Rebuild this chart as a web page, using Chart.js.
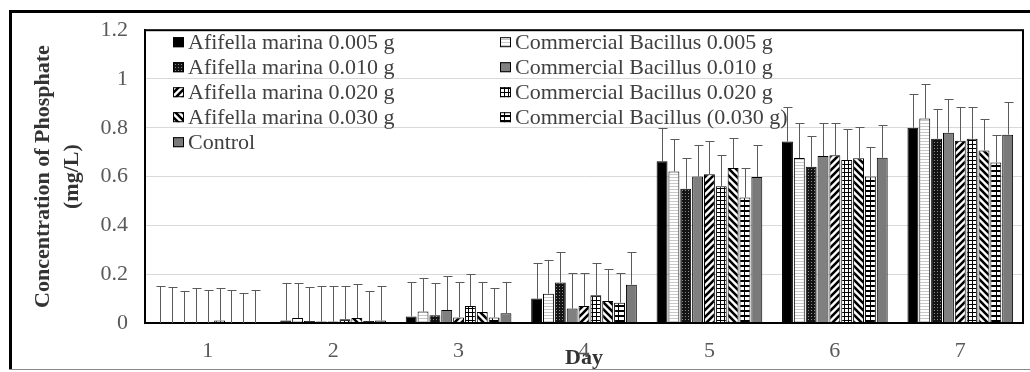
<!DOCTYPE html>
<html>
<head>
<meta charset="utf-8">
<style>
  html, body { margin: 0; padding: 0; background: #fff; }
  #wrap { width: 1030px; height: 372px; position: relative; }
  canvas { display: block; }
</style>
<script src="https://cdn.jsdelivr.net/npm/chart.js@4/dist/chart.umd.min.js"></script>
</head>
<body>
<div id="wrap"><canvas id="chart" width="1030" height="372"></canvas></div>
<script>
// Sampling days (x categories)
const days = ['1', '2', '3', '4', '5', '6', '7'];

// Phosphate concentration (mg/L) per treatment, days 1-7
const afifella005   = [0.000, 0.010, 0.027, 0.100, 0.663, 0.744, 0.800];
const bacillus005   = [0.000, 0.020, 0.047, 0.120, 0.621, 0.676, 0.838];
const afifella010   = [0.000, 0.008, 0.032, 0.166, 0.550, 0.640, 0.755];
const bacillus010   = [0.000, 0.006, 0.053, 0.059, 0.600, 0.684, 0.780];
const afifella020   = [0.000, 0.006, 0.023, 0.070, 0.610, 0.687, 0.747];
const bacillus020   = [0.010, 0.015, 0.070, 0.114, 0.560, 0.668, 0.755];
const afifella030   = [0.000, 0.020, 0.045, 0.090, 0.635, 0.675, 0.707];
const bacillus030   = [0.000, 0.008, 0.023, 0.083, 0.514, 0.600, 0.658];
const control       = [0.000, 0.010, 0.040, 0.157, 0.598, 0.677, 0.772];

// Upper error (standard deviation, mg/L) per treatment, days 1-7
const afifella005Err = [0.153, 0.153, 0.143, 0.144, 0.137, 0.141, 0.140];
const bacillus005Err = [0.146, 0.143, 0.139, 0.140, 0.134, 0.142, 0.140];
const afifella010Err = [0.130, 0.138, 0.131, 0.124, 0.125, 0.127, 0.122];
const bacillus010Err = [0.143, 0.144, 0.141, 0.145, 0.130, 0.135, 0.136];
const afifella020Err = [0.137, 0.144, 0.147, 0.134, 0.135, 0.132, 0.137];
const bacillus020Err = [0.133, 0.135, 0.130, 0.130, 0.130, 0.127, 0.129];
const afifella030Err = [0.137, 0.140, 0.125, 0.130, 0.125, 0.128, 0.130];
const bacillus030Err = [0.123, 0.122, 0.122, 0.121, 0.121, 0.120, 0.114];
const controlErr     = [0.137, 0.143, 0.130, 0.133, 0.132, 0.133, 0.132];

// Legend / dataset names
const seriesNames = [
  'Afifella marina 0.005 g', 'Commercial Bacillus 0.005 g',
  'Afifella marina 0.010 g', 'Commercial Bacillus 0.010 g',
  'Afifella marina 0.020 g', 'Commercial Bacillus 0.020 g',
  'Afifella marina 0.030 g', 'Commercial Bacillus (0.030 g)',
  'Control'
];

// Value axis ticks
const yTickValues = [0, 0.2, 0.4, 0.6, 0.8, 1, 1.2];
const yTickLabels = ['0', '0.2', '0.4', '0.6', '0.8', '1', '1.2'];

const SERIF = "'Liberation Serif', 'Times New Roman', serif";

// ---- fill patterns ----
function makePattern(w, h, paint) {
  const c = document.createElement('canvas');
  c.width = w; c.height = h;
  const g = c.getContext('2d');
  paint(g, w, h);
  return g.createPattern(c, 'repeat');
}
function diagonal(up) {
  return makePattern(7, 7, (g, w, h) => {
    g.fillStyle = '#fff'; g.fillRect(0, 0, w, h);
    g.strokeStyle = '#000'; g.lineWidth = 2.6;
    g.beginPath();
    for (let k = -1; k <= 1; k++) {
      if (up) { g.moveTo(k * w - 1, h + 1); g.lineTo(k * w + w + 1, -1); }
      else    { g.moveTo(k * w - 1, -1);    g.lineTo(k * w + w + 1, h + 1); }
    }
    g.stroke();
  });
}
const fills = [
  '#000000',
  makePattern(4, 3, (g) => { g.fillStyle = '#fff'; g.fillRect(0, 0, 4, 3); g.fillStyle = '#c8c8c8'; g.fillRect(0, 0, 4, 1); }),
  makePattern(3, 3, (g) => { g.fillStyle = '#141414'; g.fillRect(0, 0, 3, 3); g.fillStyle = '#8c8c8c'; g.fillRect(1, 1, 1, 1); }),
  '#808080',
  diagonal(true),
  makePattern(4, 4, (g) => { g.fillStyle = '#fff'; g.fillRect(0, 0, 4, 4); g.fillStyle = '#000'; g.fillRect(0, 0, 4, 1); g.fillRect(0, 0, 1, 4); }),
  diagonal(false),
  makePattern(6, 5, (g) => { g.fillStyle = '#fff'; g.fillRect(0, 0, 6, 5); g.fillStyle = '#000'; g.fillRect(0, 0, 6, 2); g.fillRect(0, 2, 1, 3); }),
  '#7a7a7a'
];

const values = [afifella005, bacillus005, afifella010, bacillus010, afifella020, bacillus020, afifella030, bacillus030, control];
const errors = [afifella005Err, bacillus005Err, afifella010Err, bacillus010Err, afifella020Err, bacillus020Err, afifella030Err, bacillus030Err, controlErr];

const datasets = seriesNames.map((name, i) => ({
  label: name,
  data: values[i],
  errUp: errors[i],
  backgroundColor: fills[i],
  borderColor: '#000',
  borderWidth: 1,
  barPercentage: 0.92,
  categoryPercentage: 0.85
}));

// Outer frame and white page
const framePlugin = {
  id: 'frame',
  beforeDraw(chart) {
    const { ctx, width, height } = chart;
    ctx.save();
    ctx.fillStyle = '#fff';
    ctx.fillRect(0, 0, width, height);
    ctx.fillStyle = '#000';
    ctx.fillRect(9, 10, width - 9, 3);
    ctx.fillRect(9, 10, 3, height - 12);
    ctx.fillStyle = '#8a8a8a';
    ctx.fillRect(9, height - 3, width - 9, 1);
    ctx.restore();
  },
  afterDatasetsDraw(chart) {
    const { ctx, chartArea: a } = chart;
    ctx.save();
    ctx.strokeStyle = '#000';
    ctx.lineWidth = 2;
    ctx.strokeRect(a.left, a.top, a.right - a.left, a.bottom - a.top);
    ctx.restore();
  }
};

// One-sided (upper) error bars
const errorBarPlugin = {
  id: 'errorBars',
  afterDatasetsDraw(chart) {
    const { ctx } = chart;
    const yScale = chart.scales.y;
    ctx.save();
    ctx.strokeStyle = '#5a5a5a';
    ctx.lineWidth = 1;
    chart.data.datasets.forEach((ds, i) => {
      const meta = chart.getDatasetMeta(i);
      meta.data.forEach((bar, j) => {
        const topPx = Math.round(yScale.getPixelForValue(ds.data[j] + ds.errUp[j])) + 0.5;
        const x = Math.round(bar.x) + 0.5;
        ctx.beginPath();
        ctx.moveTo(x, bar.y);
        ctx.lineTo(x, topPx);
        ctx.moveTo(x - 4, topPx);
        ctx.lineTo(x + 5, topPx);
        ctx.stroke();
      });
    });
    ctx.restore();
  }
};

// Two-column legend laid over the plot
const legendPlugin = {
  id: 'gridLegend',
  afterDraw(chart) {
    const { ctx, chartArea: a } = chart;
    ctx.save();
    ctx.font = '22px ' + SERIF;
    ctx.textBaseline = 'middle';
    ctx.textAlign = 'left';
    chart.data.datasets.forEach((ds, i) => {
      const col = i % 2, row = Math.floor(i / 2);
      const x = a.left + (col === 0 ? 28 : 355);
      const y = a.top + 12 + row * 25;
      ctx.fillStyle = ds.backgroundColor;
      ctx.fillRect(x, y - 5, 11, 10);
      ctx.strokeStyle = '#000';
      ctx.lineWidth = 1;
      ctx.strokeRect(x + 0.5, y - 4.5, 10, 9);
      ctx.fillStyle = '#404040';
      ctx.fillText(ds.label, x + 15, y + 1);
    });
    ctx.restore();
  }
};

new Chart(document.getElementById('chart'), {
  type: 'bar',
  data: { labels: days, datasets },
  options: {
    responsive: false,
    animation: false,
    devicePixelRatio: 1,
    layout: { padding: { left: 12, right: 7, top: 25, bottom: 0 } },
    plugins: {
      legend: { display: false },
      tooltip: { enabled: false }
    },
    scales: {
      x: {
        grid: { display: false, drawTicks: false },
        border: { display: true, color: '#222', width: 2 },
        ticks: { padding: 15, color: '#595959', font: { family: SERIF, size: 22 } },
        title: {
          display: true, text: 'Day', color: '#333',
          font: { family: SERIF, size: 22, weight: 'bold' },
          padding: { top: 0, bottom: 0 }
        },
        afterFit(scale) { scale.height = 49; }
      },
      y: {
        min: yTickValues[0],
        max: yTickValues[yTickValues.length - 1],
        afterBuildTicks(scale) {
          scale.ticks = yTickValues.map(v => ({ value: v }));
        },
        grid: { color: '#d9d9d9', lineWidth: 1, drawTicks: false },
        border: { display: true, color: '#000', width: 2 },
        ticks: {
          padding: 17, color: '#595959', font: { family: SERIF, size: 22 },
          callback(value, index) { return yTickLabels[index]; }
        },
        title: {
          display: true,
          text: ['Concentration of Phosphate', '(mg/L)'],
          color: '#333',
          font: { family: SERIF, size: 22, weight: 'bold', lineHeight: '29px' },
          padding: { top: 16.5, bottom: 0 }
        },
        afterFit(scale) { scale.width = 133; }
      }
    }
  },
  plugins: [framePlugin, errorBarPlugin, legendPlugin]
});
</script>
</body>
</html>
